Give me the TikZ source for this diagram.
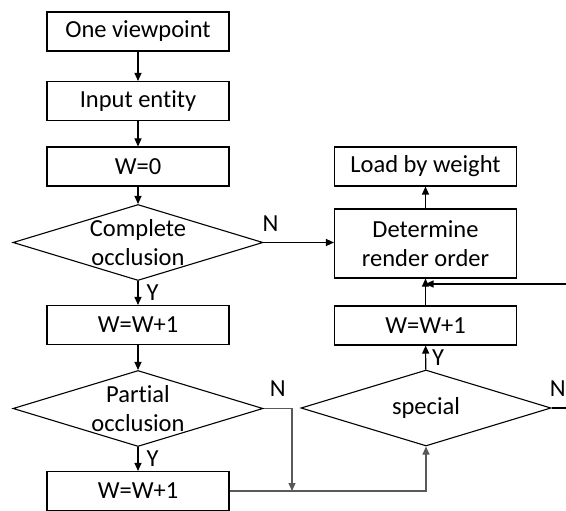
\documentclass[tikz,border=0pt]{standalone}
\usepackage{fontspec}
\setmainfont{Carlito}[Ligatures=NoCommon]
\usetikzlibrary{
  arrows.meta,
  calc,
  shapes.geometric
}
\definecolor{lngray}{HTML}{595959}
\tikzset{
  blk/.style={
    draw,
    line width=1.1pt,
    minimum width=182pt,
    minimum height=39pt,
    inner sep=0pt},
  dec/.style={
    draw,
    diamond,
    line width=1.1pt,
    minimum width=250pt,
    minimum height=76pt,
    inner sep=0pt},
  fl/.style={
    -{Triangle[length=8pt,width=7pt]},
    line width=1.1pt},
  yn/.style={inner sep=0pt}
  }

\begin{document}
\begin{tikzpicture}[x=1pt,y=-1pt,font=\fontsize{24.5}{29}\selectfont]
    \useasboundingbox (0,0) rectangle (566,511);
    % left column
    \node[blk] (view) at (138,31.5) {One viewpoint};
    \node[blk] (input) at (138,101) {Input entity};
    \node[blk] (w0) at (138,166.5) {W=0};
    \node[dec] (comp) at (138,242.5) {};
    \node[align=center] (comptxt) at (comp) {Complete\\occlusion};
    \node[blk] (lw1) at (138,325) {W=W+1};
    \node[dec] (part) at (138,408.5) {};
    \node[align=center] (parttxt) at (part) {Partial\\occlusion};
    \node[blk] (lw2) at (138,491) {W=W+1};
    % right column
    \node[blk] (load) at (425.5,166.5) {Load by weight};
    \node[blk, minimum height=69pt, align=center] (det) at (425.5,243.5) {Determine\\render order};
    \node[blk] (rw1) at (425.5,325.5) {W=W+1};
    \node[dec] (spec) at (426,408) {};
    \node (spectxt) at (spec) {special};
    % loose ends
    \coordinate (mrg) at (292,491);
    \coordinate (outs) at (566,408);
    \coordinate (inr) at (566,284);
    \draw [fl]
    (view) edge[] (input)
    (input) edge[] (w0)
    (w0) edge[] (comp)
    (comp) edge[] node[yn,right=8pt]{Y} (lw1)
    (lw1) edge[] (part)
    (part) edge[] node[yn,right=8pt]{Y} (lw2)
    (spec) edge[] node[yn,right=6pt]{Y} (rw1)
    (rw1) edge[] (det)
    (det) edge[] (load);
    \draw [fl] (comp.east) -- node[yn,pos=0.1,above=10pt]{N} (comp.east -| det.west);
    \draw [fl, lngray] (part.east) -| node[yn,pos=0.25,above=11pt,black]{N} (mrg);
    \draw [fl, lngray] (lw2.east) -| (spec.south);
    \draw [line width=1.1pt] (spec.east) -- node[yn,pos=0.43,above=11pt]{N} (outs);
    \draw [fl] (inr) -- (det.south |- inr);
  \end{tikzpicture}
\end{document}
